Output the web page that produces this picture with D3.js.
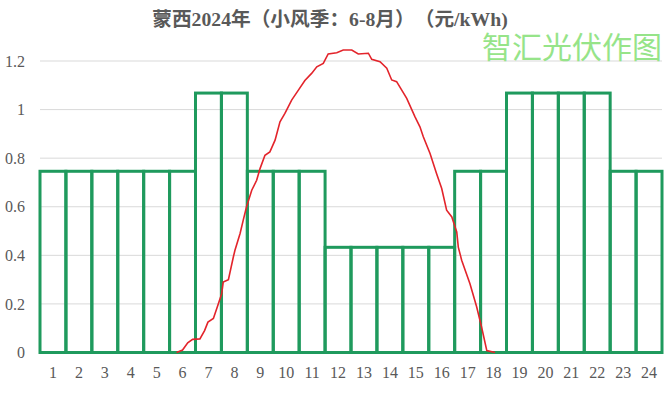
<!DOCTYPE html>
<html>
<head>
<meta charset="utf-8">
<script src="https://cdn.jsdelivr.net/npm/d3@7"></script>
<style>
  body { margin: 0; background: #fff; }
  text { text-spacing-trim: space-all; }
</style>
</head>
<body>
<div class="chart"></div>
<script>
// hourly price (yuan/kWh), summer low-wind season
var hours = d3.range(1, 25);
var prices = [0.746, 0.746, 0.746, 0.746, 0.746, 0.746, 1.068, 1.068, 0.746, 0.746, 0.746, 0.433,
              0.433, 0.433, 0.433, 0.433, 0.746, 0.746, 1.068, 1.068, 1.068, 1.068, 0.746, 0.746];
var yTicks = [0, 0.2, 0.4, 0.6, 0.8, 1, 1.2];

// PV output curve
var solarHour = [5.77, 6.0, 6.2, 6.39, 6.67, 6.85, 6.98, 7.19, 7.35, 7.51, 7.57, 7.77, 7.96, 8.02,
                 8.22, 8.34, 8.47, 8.67, 8.86, 8.99, 9.18, 9.37, 9.57, 9.76, 9.95, 10.21, 10.47,
                 10.72, 10.98, 11.18, 11.43, 11.62, 11.95, 12.2, 12.53, 12.78, 13.17, 13.3, 13.62,
                 13.88, 14.07, 14.26, 14.65, 14.97, 15.16, 15.29, 15.55, 15.8, 16.0, 16.19, 16.39,
                 16.58, 16.64, 16.77, 17.09, 17.35, 17.54, 17.74, 18.06];
var solarValue = [0, 0.01, 0.04, 0.054, 0.056, 0.09, 0.125, 0.14, 0.19, 0.242, 0.29, 0.30, 0.393, 0.42,
                  0.49, 0.544, 0.6, 0.668, 0.709, 0.757, 0.812, 0.826, 0.874, 0.95, 0.984, 1.039, 1.08,
                  1.12, 1.149, 1.176, 1.19, 1.229, 1.234, 1.245, 1.245, 1.229, 1.232, 1.207, 1.197,
                  1.17, 1.122, 1.115, 1.046, 0.97, 0.929, 0.888, 0.819, 0.737, 0.675, 0.586, 0.558,
                  0.496, 0.434, 0.38, 0.283, 0.187, 0.104, 0.008, 0];

var svgWidth = 670;
var svgHeight = 396;
var margin = { top: 61, right: 8, bottom: 44, left: 40 };
var width = svgWidth - margin.left - margin.right;
var height = 352.5 - margin.top;

var svg = d3.select(".chart")
    .append("svg")
    .attr("width", svgWidth)
    .attr("height", svgHeight)
    .style("display", "block");

var chartGroup = svg.append("g")
    .attr("transform", `translate(${margin.left}, ${margin.top})`);

var xBand = d3.scaleBand().domain(hours).range([0, width]).padding(0);
var xHour = d3.scaleLinear().domain([0.5, 24.5]).range([0, width]);
var yScale = d3.scaleLinear().domain([0, 1.2]).range([height, 0]);

// gridlines
chartGroup.selectAll(".grid")
    .data(yTicks.filter(d => d > 0))
    .enter()
    .append("line")
    .attr("x1", 0)
    .attr("x2", width)
    .attr("y1", d => yScale(d))
    .attr("y2", d => yScale(d))
    .attr("stroke", "#d9d9d9")
    .attr("stroke-width", 1);

// y axis labels
var leftAxis = d3.axisLeft(yScale).tickValues(yTicks).tickSize(0).tickPadding(15).tickFormat(d3.format("~g"));
var yAxis = chartGroup.append("g")
    .call(leftAxis)
    .attr("font-family", "'Liberation Serif', serif")
    .attr("font-size", 16);
yAxis.select(".domain").remove();
yAxis.selectAll("text").attr("fill", "#595959");

// x axis labels
var bottomAxis = d3.axisBottom(xBand).tickSize(0).tickPadding(14);
var xAxis = chartGroup.append("g")
    .attr("transform", `translate(0, ${height})`)
    .call(bottomAxis)
    .attr("font-family", "'Liberation Serif', serif")
    .attr("font-size", 16);
xAxis.select(".domain").remove();
xAxis.selectAll("text").attr("fill", "#595959");

// price bars (outlined)
chartGroup.selectAll(".bar")
    .data(hours)
    .enter()
    .append("rect")
    .attr("x", d => xBand(d))
    .attr("y", (d, i) => yScale(prices[i]))
    .attr("width", xBand.bandwidth())
    .attr("height", (d, i) => height - yScale(prices[i]))
    .attr("fill", "none")
    .attr("stroke", "#1f9a5d")
    .attr("stroke-width", 3);

// solar curve
var line = d3.line()
    .x((d, i) => xHour(solarHour[i]))
    .y(d => yScale(d));

chartGroup.append("path")
    .datum(solarValue)
    .attr("d", line)
    .attr("fill", "none")
    .attr("stroke", "#e3242b")
    .attr("stroke-width", 1.6);

// title
svg.append("text")
    .attr("x", 330)
    .attr("y", 26)
    .attr("text-anchor", "middle")
    .attr("fill", "#595959")
    .style("font-family", "'Liberation Serif', 'Noto Sans CJK SC', serif")
    .style("font-weight", "bold")
    .style("font-size", "19.7px")
    .text("蒙西2024年（小风季：6-8月）（元/kWh)");

// watermark
svg.append("text")
    .attr("x", 662)
    .attr("y", 58)
    .attr("text-anchor", "end")
    .attr("fill", "#96e489")
    .style("font-family", "'Noto Sans CJK SC', sans-serif")
    .style("font-size", "30px")
    .text("智汇光伏作图");
</script>
</body>
</html>
